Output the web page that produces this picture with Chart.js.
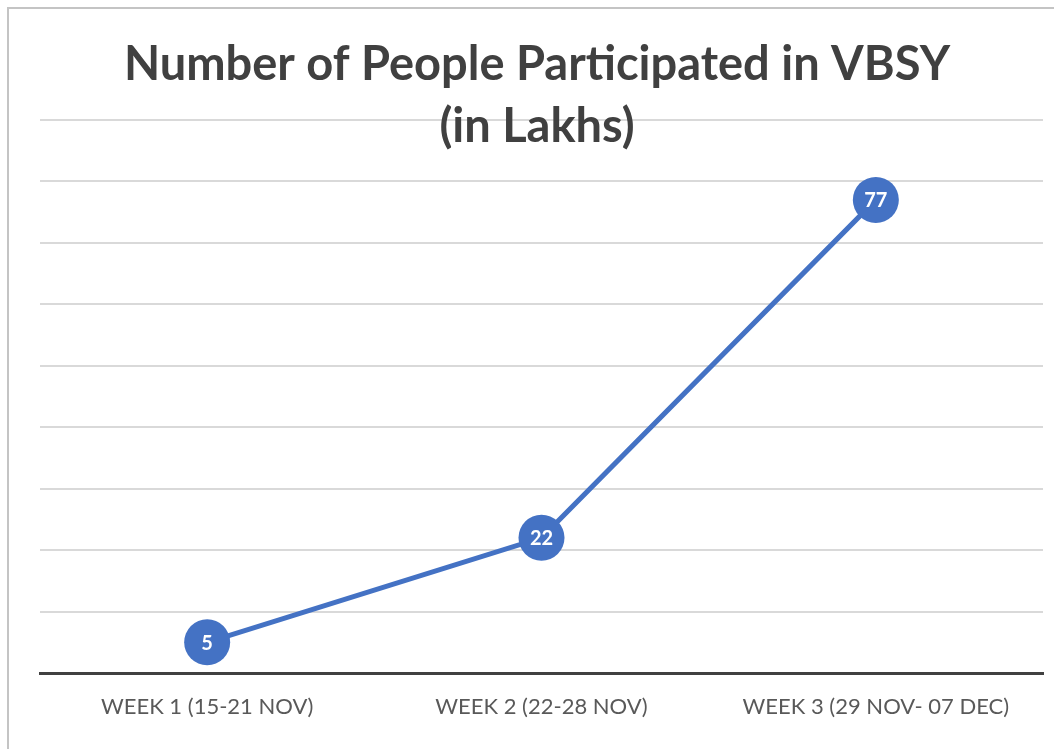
<!DOCTYPE html>
<html>
<head>
<meta charset="utf-8">
<script src="https://cdn.jsdelivr.net/npm/chart.js@4/dist/chart.umd.min.js"></script>
<style>
  html, body { margin: 0; padding: 0; background: #ffffff; }
  #wrap { position: absolute; left: 0; top: 0; width: 1054px; height: 749px; }
  #frame { position: absolute; left: 7px; top: 7px; width: 1047px; height: 742px;
           border-left: 2px solid #c4c4c4; border-top: 2px solid #c4c4c4; box-sizing: border-box; pointer-events: none; }
  canvas { position: absolute; left: 0; top: 0; }
</style>
</head>
<body>
<div id="wrap">
  <canvas id="c" width="1054" height="749"></canvas>
  <div id="frame"></div>
</div>
<script>
const categories = ["WEEK 1 (15-21 NOV)", "WEEK 2 (22-28 NOV)", "WEEK 3 (29 NOV- 07 DEC)"];
const participants = [5, 22, 77];
const titleLines = ["Number of People Participated in VBSY", "(in Lakhs)"];
const yMin = 0, yMax = 90, yStep = 10;

const FONT = "Lato, 'Open Sans', 'DejaVu Sans', sans-serif";

const titlePlugin = {
  id: 'overTitle',
  afterDraw(chart) {
    const ctx = chart.ctx;
    ctx.save();
    ctx.fillStyle = '#404040';
    ctx.font = "bold 47px " + FONT;
    ctx.textAlign = 'center';
    ctx.textBaseline = 'middle';
    const cx = 537;
    ctx.fillText(titleLines[0], cx, 65);
    ctx.fillText(titleLines[1], cx, 127);
    ctx.restore();
  }
};

const labelPlugin = {
  id: 'pointLabels',
  afterDatasetsDraw(chart) {
    const ctx = chart.ctx;
    const meta = chart.getDatasetMeta(0);
    ctx.save();
    ctx.fillStyle = '#ffffff';
    ctx.font = "bold 20px " + FONT;
    ctx.textAlign = 'center';
    ctx.textBaseline = 'middle';
    meta.data.forEach((pt, i) => {
      ctx.fillText(String(chart.data.datasets[0].data[i]), pt.x, pt.y + 1);
    });
    ctx.restore();
  }
};

new Chart(document.getElementById('c'), {
  type: 'line',
  data: {
    labels: categories,
    datasets: [{
      data: participants,
      borderColor: '#4472C4',
      borderWidth: 5,
      backgroundColor: '#4472C4',
      pointRadius: 23,
      pointHoverRadius: 23,
      pointBackgroundColor: '#4472C4',
      pointBorderWidth: 0,
      tension: 0,
      fill: false,
      clip: false
    }]
  },
  options: {
    responsive: false,
    animation: false,
    devicePixelRatio: 1,
    layout: { autoPadding: false, padding: { left: 40, right: 11, top: 120, bottom: 0 } },
    plugins: {
      legend: { display: false },
      title: { display: false },
      tooltip: { enabled: false }
    },
    scales: {
      x: {
        offset: true,
        grid: { display: false, drawTicks: false },
        border: { display: true, color: '#404040', width: 3 },
        ticks: { color: '#595959', font: { family: FONT, size: 22 }, padding: 21, maxRotation: 0, autoSkip: false },
        afterFit(scale) { scale.height = 76; scale.paddingLeft = 0; scale.paddingRight = 0; }
      },
      y: {
        min: yMin, max: yMax,
        ticks: { display: false, stepSize: yStep },
        grid: {
          drawTicks: false,
          lineWidth: 2,
          color: (c) => (c.tick && c.tick.value === 0) ? 'rgba(0,0,0,0)' : '#d9d9d9'
        },
        border: { display: false },
        afterFit(scale) { scale.width = 0; scale.paddingTop = 0; scale.paddingBottom = 0; }
      }
    }
  },
  plugins: [titlePlugin, labelPlugin]
});
</script>
</body>
</html>
